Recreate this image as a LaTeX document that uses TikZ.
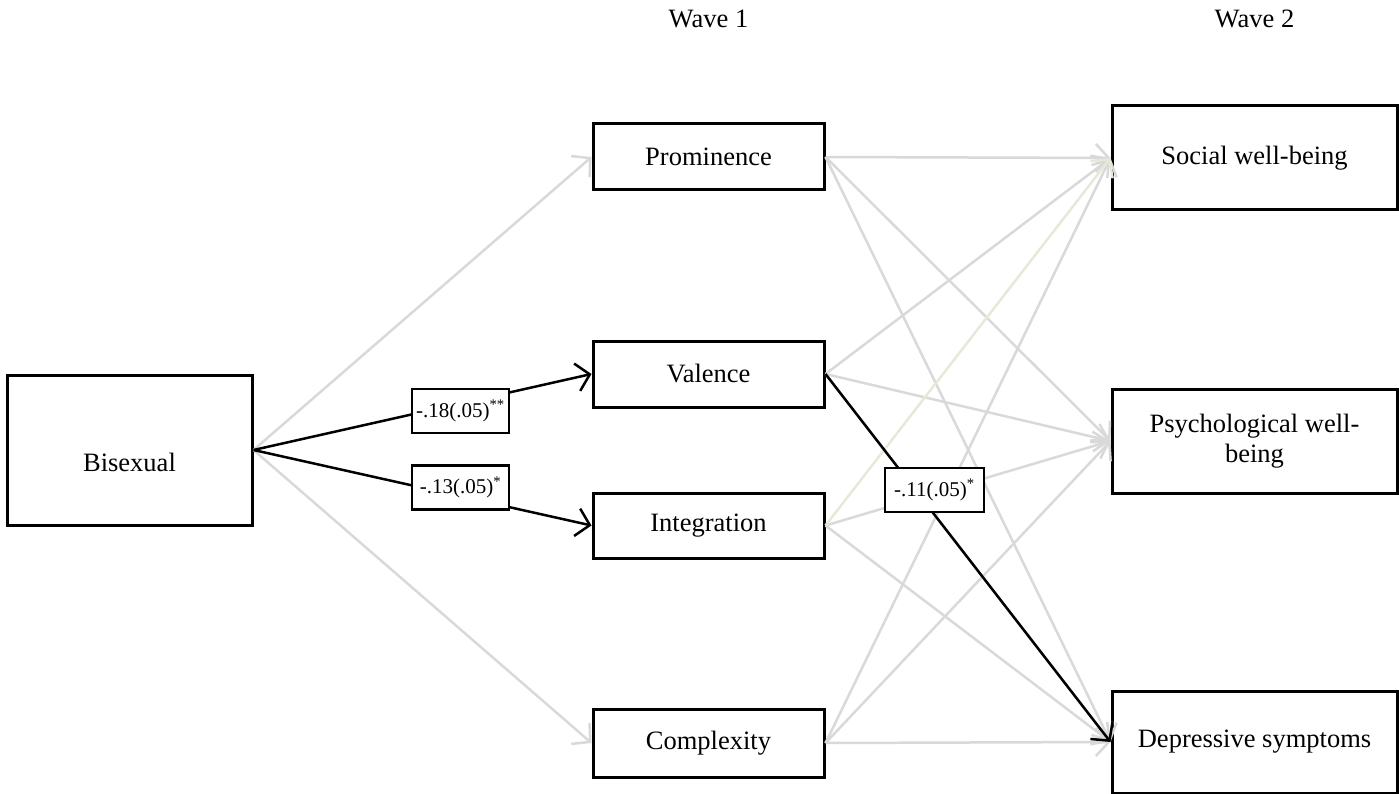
\documentclass[tikz,border=0pt]{standalone}
\usepackage{fontspec}
\setmainfont{Liberation Serif}
\usetikzlibrary{arrows.meta}
\definecolor{edgegray}{RGB}{217,217,217}
\definecolor{edgebeige}{RGB}{232,232,218}
\begin{document}
\begin{tikzpicture}[x=1pt,y=-1pt,
  box/.style={draw=black, line width=3pt, fill=white, inner sep=0pt, align=center,
    font=\fontsize{26.5}{30}\selectfont},
  wone/.style={box, minimum width=231pt},
  wtwo/.style={box, minimum width=285pt},
  coef/.style={draw=black, line width=2.5pt, fill=white, inner sep=0pt,
    minimum height=44pt, font=\fontsize{21}{24}\selectfont},
  title/.style={inner sep=0pt, font=\fontsize{26.5}{30}\selectfont},
  tip/.style={-{Straight Barb[length=13pt,width=28pt]}},
  gedge/.style={draw=edgegray, line width=2.5pt, tip},
  yedge/.style={draw=edgebeige, line width=2.5pt, tip},
  bedge/.style={draw=black, line width=2.5pt, tip}]
\useasboundingbox (0,0) rectangle (1399,794);

% titles
\node[title] (w1) at (708.5,19) {Wave 1};
\node[title] (w2) at (1254.5,19) {Wave 2};

% boxes
\node[box, minimum width=245pt, minimum height=150pt] (bis) at (129.5,450)
  {\raisebox{-21pt}[0pt][0pt]{Bisexual}};
\node[wone, minimum height=66pt] (prom) at (708.5,157) {Prominence};
\node[wone, minimum height=66pt] (val) at (708.5,374) {Valence};
\node[wone, minimum height=65pt] (integ) at (708.5,525.5) {Integration};
\node[wone, minimum height=68pt] (comp) at (708.5,743) {Complexity};
\node[wtwo, minimum height=104pt] (soc) at (1254.5,158) {Social well-being};
\node[wtwo, minimum height=104pt] (psy) at (1254.5,441) {Psychological well-\\being};
\node[wtwo, minimum height=102pt] (dep) at (1254.5,742) {Depressive symptoms};

% grey paths
\draw[gedge] (bis.east) -- (prom.west);
\draw[gedge] (bis.east) -- (comp.west);
\foreach \s in {prom,val,integ,comp}{
  \foreach \t in {psy,dep}{
    \draw[gedge] (\s.east) -- (\t.west);
  }
}
\draw[gedge] (prom.east) -- (soc.west);
\draw[gedge] (val.east) -- (soc.west);
\draw[gedge] (comp.east) -- (soc.west);
\draw[yedge] (integ.east) -- (soc.west);

% significant paths
\draw[bedge] (bis.east) -- (val.west);
\draw[bedge] (bis.east) -- (integ.west);
\draw[bedge] (val.east) -- (dep.west);

% coefficient labels
\node[coef, minimum width=97pt] (c1) at (460.5,411) {-.18(.05)\textsuperscript{**}};
\node[coef, minimum width=97pt] (c2) at (460.5,487.5) {-.13(.05)\textsuperscript{*}};
\node[coef, minimum width=99pt] (c3) at (934.5,490) {-.11(.05)\textsuperscript{*}};
\end{tikzpicture}
\end{document}
